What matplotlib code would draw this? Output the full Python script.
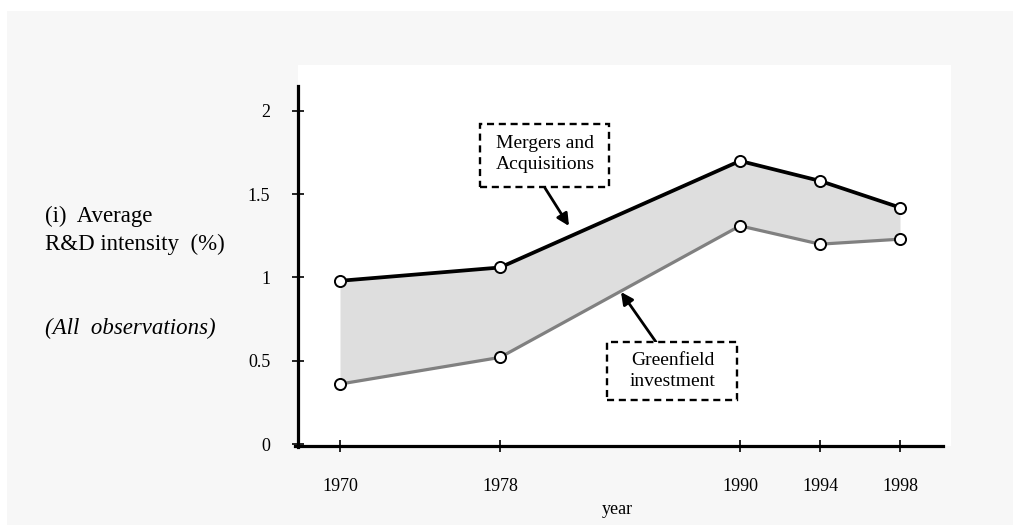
import matplotlib
matplotlib.use('Agg')
import matplotlib.pyplot as plt
from matplotlib.patches import Rectangle

plt.rcParams['font.family'] = ['Liberation Serif', 'DejaVu Serif']

# Данные графика
years = [1970, 1978, 1990, 1994, 1998]
tick_years = [1970, 1978, 1990, 1994, 1998]
ma = [0.98, 1.06, 1.70, 1.58, 1.42]       # Mergers and Acquisitions
gf = [0.36, 0.52, 1.31, 1.20, 1.23]       # Greenfield investment
yticks = [0, 0.5, 1, 1.5, 2]
ytick_labels = ['0', '0.5', '1', '1.5', '2']

W, H = 1013, 525

# Перевод пикселей в доли фигуры
def fx(px):
    return px / W

def fy(py):
    return 1 - py / H

# Пунктирная рамка подписи (в пикселях)
def dashed_box(x0, y0, x1, y1):
    fig.add_artist(Rectangle((fx(x0), fy(y1)), fx(x1 - x0), (y1 - y0) / H,
                             transform=fig.transFigure, facecolor='white',
                             edgecolor='black', linewidth=1.7,
                             linestyle=(0, (3, 2)), zorder=5))

fig = plt.figure(figsize=(W / 100, H / 100), dpi=100)
fig.patch.set_facecolor('white')
fig.add_artist(Rectangle((fx(7), 0), 1 - fx(7), fy(11), transform=fig.transFigure,
                         facecolor='#f7f7f7', edgecolor='none', zorder=0))

ax = fig.add_axes([fx(298), fy(446), fx(951 - 298), (446 - 65) / H])
ax.set_facecolor('white')
ax.set_xlim(1967.9, 2000.55)
ax.set_ylim(-0.012, 2.276)

ax.fill_between(years, gf, ma, color='#dedede', linewidth=0, zorder=1)
ax.plot(years, ma, color='black', linewidth=2.7, zorder=3)
ax.plot(years, gf, color='#808080', linewidth=2.3, zorder=2)
ax.plot(years, ma, 'o', markersize=8, markerfacecolor='white', markeredgecolor='black',
        markeredgewidth=1.4, zorder=4)
ax.plot(years, gf, 'o', markersize=8, markerfacecolor='white', markeredgecolor='black',
        markeredgewidth=1.4, zorder=4)

# Оси
for s in ['top', 'right']:
    ax.spines[s].set_visible(False)
ax.spines['left'].set_linewidth(2.3)
ax.spines['bottom'].set_linewidth(2.3)
ax.spines['left'].set_bounds(-0.018, 2.15)
ax.spines['bottom'].set_bounds(1967.75, 2000.15)

ax.set_xticks(tick_years)
ax.set_xticklabels([str(t) for t in tick_years])
ax.set_yticks(yticks)
ax.set_yticklabels(ytick_labels)
ax.tick_params(axis='both', direction='inout', length=8, width=1.2, labelsize=13)
ax.tick_params(axis='y', pad=16)
ax.tick_params(axis='x', pad=19)

# Подписи
fig.text(fx(617), fy(510), 'year', ha='center', va='center', fontsize=13)
fig.text(fx(45), fy(216), '(i)  Average', ha='left', va='center', fontsize=16.5)
fig.text(fx(45), fy(244), 'R&D intensity  (%)', ha='left', va='center', fontsize=16.5)
fig.text(fx(45), fy(328), '(All  observations)', ha='left', va='center', fontsize=16.5,
         style='italic')

dashed_box(480, 124, 609, 187)
fig.text(fx(545), fy(154), 'Mergers and\nAcquisitions', ha='center', va='center',
         fontsize=14, linespacing=1.35, zorder=6)
dashed_box(607, 342, 737, 400)
fig.text(fx(673), fy(371), 'Greenfield\ninvestment', ha='center', va='center',
         fontsize=14, linespacing=1.35, zorder=6)

arrow = dict(arrowstyle='-|>', color='black', lw=2.0, mutation_scale=18,
             shrinkA=0, shrinkB=0)
ax.annotate('', xy=(fx(569), fy(226)), xytext=(fx(545), fy(188)),
            xycoords='figure fraction', textcoords='figure fraction', arrowprops=arrow)
ax.annotate('', xy=(fx(621), fy(292)), xytext=(fx(656), fy(342)),
            xycoords='figure fraction', textcoords='figure fraction', arrowprops=arrow)

fig.savefig('out.png', dpi=100, facecolor=fig.get_facecolor())
